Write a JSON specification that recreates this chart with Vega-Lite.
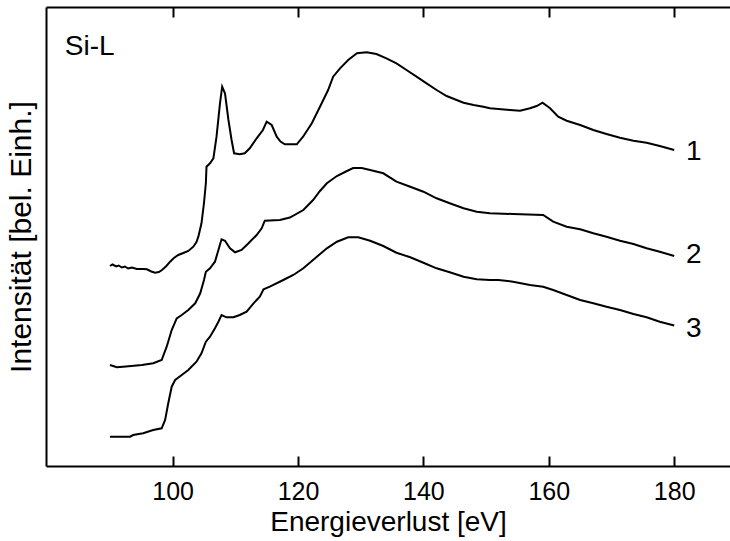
{
  "$schema": "https://vega.github.io/schema/vega-lite/v6.json",
  "width": 684,
  "height": 459,
  "autosize": {"type": "none"},
  "padding": {"left": 46, "top": 7, "right": 0, "bottom": 75},
  "background": "white",
  "view": {"stroke": null},
  "config": {
    "font": "Liberation Sans",
    "axis": {"domainColor": "black", "domainWidth": 2, "tickColor": "black", "tickWidth": 2, "labelColor": "black", "titleColor": "black", "titleFontWeight": "normal", "grid": false}
  },
  "datasets": {
    "curves": [
      {"s": 1, "e": 90.0, "i": 200},
      {"s": 1, "e": 90.4, "i": 201.5},
      {"s": 1, "e": 91.0, "i": 199.5},
      {"s": 1, "e": 91.4, "i": 200.5},
      {"s": 1, "e": 91.9, "i": 198.5},
      {"s": 1, "e": 92.4, "i": 199.5},
      {"s": 1, "e": 92.9, "i": 197.5},
      {"s": 1, "e": 93.5, "i": 198.5},
      {"s": 1, "e": 94.3, "i": 197},
      {"s": 1, "e": 95.3, "i": 197},
      {"s": 1, "e": 95.9, "i": 196.7},
      {"s": 1, "e": 96.6, "i": 194.5},
      {"s": 1, "e": 97.2, "i": 193.3},
      {"s": 1, "e": 97.8, "i": 194},
      {"s": 1, "e": 98.3, "i": 196},
      {"s": 1, "e": 99.0, "i": 200},
      {"s": 1, "e": 99.6, "i": 204.3},
      {"s": 1, "e": 100.2, "i": 208},
      {"s": 1, "e": 100.9, "i": 211},
      {"s": 1, "e": 101.7, "i": 213},
      {"s": 1, "e": 102.5, "i": 215},
      {"s": 1, "e": 103.3, "i": 219.3},
      {"s": 1, "e": 103.8, "i": 224},
      {"s": 1, "e": 104.1, "i": 229.3},
      {"s": 1, "e": 104.6, "i": 242.7},
      {"s": 1, "e": 105.0, "i": 263},
      {"s": 1, "e": 105.3, "i": 283},
      {"s": 1, "e": 105.4, "i": 299.3},
      {"s": 1, "e": 105.96, "i": 302.7},
      {"s": 1, "e": 106.5, "i": 307.7},
      {"s": 1, "e": 107.0, "i": 329.3},
      {"s": 1, "e": 107.55, "i": 362.7},
      {"s": 1, "e": 107.9, "i": 379.3},
      {"s": 1, "e": 108.35, "i": 372.7},
      {"s": 1, "e": 108.9, "i": 346},
      {"s": 1, "e": 109.4, "i": 326},
      {"s": 1, "e": 109.8, "i": 312.7},
      {"s": 1, "e": 110.7, "i": 311.7},
      {"s": 1, "e": 111.5, "i": 312.7},
      {"s": 1, "e": 112.3, "i": 317.7},
      {"s": 1, "e": 113.4, "i": 327.7},
      {"s": 1, "e": 114.4, "i": 336},
      {"s": 1, "e": 115.0, "i": 344.3},
      {"s": 1, "e": 115.8, "i": 341},
      {"s": 1, "e": 116.6, "i": 329.3},
      {"s": 1, "e": 117.2, "i": 324.5},
      {"s": 1, "e": 117.9, "i": 321.7},
      {"s": 1, "e": 119.8, "i": 321.7},
      {"s": 1, "e": 120.8, "i": 329.3},
      {"s": 1, "e": 122.2, "i": 342.7},
      {"s": 1, "e": 123.5, "i": 359.3},
      {"s": 1, "e": 124.8, "i": 376},
      {"s": 1, "e": 125.6, "i": 389.3},
      {"s": 1, "e": 126.7, "i": 397.7},
      {"s": 1, "e": 128.0, "i": 406},
      {"s": 1, "e": 129.4, "i": 412.7},
      {"s": 1, "e": 130.95, "i": 413.7},
      {"s": 1, "e": 132.5, "i": 412},
      {"s": 1, "e": 134.1, "i": 407.7},
      {"s": 1, "e": 135.7, "i": 402.7},
      {"s": 1, "e": 137.3, "i": 396},
      {"s": 1, "e": 138.9, "i": 389.3},
      {"s": 1, "e": 140.5, "i": 382.7},
      {"s": 1, "e": 142.1, "i": 376},
      {"s": 1, "e": 143.7, "i": 370},
      {"s": 1, "e": 145.3, "i": 366},
      {"s": 1, "e": 146.4, "i": 363.3},
      {"s": 1, "e": 148.0, "i": 361},
      {"s": 1, "e": 149.55, "i": 359.3},
      {"s": 1, "e": 150.6, "i": 357.7},
      {"s": 1, "e": 153.8, "i": 356},
      {"s": 1, "e": 155.4, "i": 355.3},
      {"s": 1, "e": 157.0, "i": 357.7},
      {"s": 1, "e": 158.07, "i": 360},
      {"s": 1, "e": 159.0, "i": 363.3},
      {"s": 1, "e": 160.2, "i": 357.7},
      {"s": 1, "e": 161.5, "i": 349.3},
      {"s": 1, "e": 162.85, "i": 345.3},
      {"s": 1, "e": 165.0, "i": 341},
      {"s": 1, "e": 167.1, "i": 336},
      {"s": 1, "e": 169.2, "i": 332},
      {"s": 1, "e": 171.35, "i": 328.3},
      {"s": 1, "e": 173.5, "i": 325.3},
      {"s": 1, "e": 175.6, "i": 323.3},
      {"s": 1, "e": 177.7, "i": 320},
      {"s": 1, "e": 180.0, "i": 316},
      {"s": 2, "e": 90.0, "i": 101},
      {"s": 2, "e": 91.1, "i": 98.7},
      {"s": 2, "e": 92.1, "i": 99.3},
      {"s": 2, "e": 95.1, "i": 101},
      {"s": 2, "e": 96.9, "i": 102.7},
      {"s": 2, "e": 98.25, "i": 106},
      {"s": 2, "e": 99.05, "i": 119.3},
      {"s": 2, "e": 99.85, "i": 136},
      {"s": 2, "e": 100.65, "i": 147.7},
      {"s": 2, "e": 101.45, "i": 151},
      {"s": 2, "e": 102.5, "i": 156},
      {"s": 2, "e": 103.6, "i": 162.7},
      {"s": 2, "e": 104.4, "i": 172.7},
      {"s": 2, "e": 105.0, "i": 186},
      {"s": 2, "e": 105.3, "i": 194.3},
      {"s": 2, "e": 105.96, "i": 197.7},
      {"s": 2, "e": 106.75, "i": 204.3},
      {"s": 2, "e": 107.3, "i": 216},
      {"s": 2, "e": 107.8, "i": 226.7},
      {"s": 2, "e": 108.35, "i": 225.3},
      {"s": 2, "e": 109.15, "i": 217.7},
      {"s": 2, "e": 109.95, "i": 213.7},
      {"s": 2, "e": 111.0, "i": 216},
      {"s": 2, "e": 112.1, "i": 222.7},
      {"s": 2, "e": 113.4, "i": 231},
      {"s": 2, "e": 114.2, "i": 237.7},
      {"s": 2, "e": 114.7, "i": 245.3},
      {"s": 2, "e": 117.1, "i": 246},
      {"s": 2, "e": 118.7, "i": 248.5},
      {"s": 2, "e": 120.85, "i": 256},
      {"s": 2, "e": 122.4, "i": 266},
      {"s": 2, "e": 123.5, "i": 275},
      {"s": 2, "e": 124.6, "i": 282.7},
      {"s": 2, "e": 126.2, "i": 290},
      {"s": 2, "e": 127.8, "i": 295},
      {"s": 2, "e": 128.8, "i": 298},
      {"s": 2, "e": 130.15, "i": 298},
      {"s": 2, "e": 131.5, "i": 296},
      {"s": 2, "e": 133.6, "i": 292.7},
      {"s": 2, "e": 135.7, "i": 284.3},
      {"s": 2, "e": 137.9, "i": 279.3},
      {"s": 2, "e": 140.0, "i": 274.3},
      {"s": 2, "e": 142.1, "i": 267.7},
      {"s": 2, "e": 144.2, "i": 262.7},
      {"s": 2, "e": 146.4, "i": 257.7},
      {"s": 2, "e": 148.5, "i": 254.3},
      {"s": 2, "e": 150.6, "i": 252.7},
      {"s": 2, "e": 154.3, "i": 252},
      {"s": 2, "e": 159.1, "i": 251},
      {"s": 2, "e": 160.7, "i": 244.3},
      {"s": 2, "e": 162.85, "i": 239.3},
      {"s": 2, "e": 165.0, "i": 236.7},
      {"s": 2, "e": 167.1, "i": 232.7},
      {"s": 2, "e": 169.2, "i": 229.3},
      {"s": 2, "e": 171.35, "i": 225.3},
      {"s": 2, "e": 173.5, "i": 222},
      {"s": 2, "e": 175.6, "i": 217.7},
      {"s": 2, "e": 177.7, "i": 214.3},
      {"s": 2, "e": 180.0, "i": 210},
      {"s": 3, "e": 90.0, "i": 29.3},
      {"s": 3, "e": 93.2, "i": 29.3},
      {"s": 3, "e": 93.7, "i": 31},
      {"s": 3, "e": 95.3, "i": 32.7},
      {"s": 3, "e": 96.9, "i": 36},
      {"s": 3, "e": 98.25, "i": 37.7},
      {"s": 3, "e": 98.8, "i": 46},
      {"s": 3, "e": 99.3, "i": 62.7},
      {"s": 3, "e": 99.85, "i": 79.3},
      {"s": 3, "e": 100.4, "i": 86},
      {"s": 3, "e": 101.45, "i": 91},
      {"s": 3, "e": 102.5, "i": 96},
      {"s": 3, "e": 103.8, "i": 104.3},
      {"s": 3, "e": 104.6, "i": 112.7},
      {"s": 3, "e": 105.3, "i": 124.3},
      {"s": 3, "e": 105.96, "i": 129.3},
      {"s": 3, "e": 106.75, "i": 137.7},
      {"s": 3, "e": 107.3, "i": 144.3},
      {"s": 3, "e": 107.8, "i": 151},
      {"s": 3, "e": 108.6, "i": 148.7},
      {"s": 3, "e": 109.7, "i": 148.7},
      {"s": 3, "e": 110.7, "i": 151},
      {"s": 3, "e": 111.8, "i": 154.3},
      {"s": 3, "e": 112.9, "i": 162.7},
      {"s": 3, "e": 113.9, "i": 169.3},
      {"s": 3, "e": 114.5, "i": 176.7},
      {"s": 3, "e": 115.5, "i": 179.3},
      {"s": 3, "e": 117.65, "i": 186},
      {"s": 3, "e": 119.25, "i": 191},
      {"s": 3, "e": 120.85, "i": 197.7},
      {"s": 3, "e": 123.0, "i": 209.3},
      {"s": 3, "e": 124.6, "i": 217.7},
      {"s": 3, "e": 126.2, "i": 224.3},
      {"s": 3, "e": 128.0, "i": 228.7},
      {"s": 3, "e": 129.6, "i": 228.7},
      {"s": 3, "e": 131.5, "i": 225.3},
      {"s": 3, "e": 133.6, "i": 220},
      {"s": 3, "e": 135.7, "i": 213.3},
      {"s": 3, "e": 137.9, "i": 208.7},
      {"s": 3, "e": 140.0, "i": 203.3},
      {"s": 3, "e": 142.1, "i": 197.7},
      {"s": 3, "e": 144.2, "i": 193.7},
      {"s": 3, "e": 146.4, "i": 189.3},
      {"s": 3, "e": 148.5, "i": 186.7},
      {"s": 3, "e": 150.6, "i": 186},
      {"s": 3, "e": 151.95, "i": 186},
      {"s": 3, "e": 154.3, "i": 184.3},
      {"s": 3, "e": 157.0, "i": 181},
      {"s": 3, "e": 159.1, "i": 179.3},
      {"s": 3, "e": 160.7, "i": 176},
      {"s": 3, "e": 162.85, "i": 171},
      {"s": 3, "e": 165.0, "i": 166},
      {"s": 3, "e": 167.1, "i": 162.7},
      {"s": 3, "e": 169.2, "i": 159.3},
      {"s": 3, "e": 171.35, "i": 156},
      {"s": 3, "e": 173.5, "i": 152},
      {"s": 3, "e": 175.6, "i": 148.7},
      {"s": 3, "e": 177.7, "i": 144.3},
      {"s": 3, "e": 180.0, "i": 140.5}
    ],
    "labels": [
      {"t": "Si-L", "e": 82.8, "i": 411},
      {"t": "1", "e": 181.9, "i": 306},
      {"t": "2", "e": 181.9, "i": 203},
      {"t": "3", "e": 181.9, "i": 129.5}
    ]
  },
  "layer": [
    {
      "data": {"name": "curves"},
      "mark": {"type": "line", "color": "black", "strokeWidth": 2, "interpolate": "linear"},
      "encoding": {
        "x": {
          "field": "e", "type": "quantitative",
          "scale": {"domain": [79.8, 188.9], "nice": false, "zero": false},
          "axis": {"orient": "bottom", "title": "Energieverlust [eV]", "values": [100, 120, 140, 160, 180], "tickSize": -10, "labelPadding": 23, "labelFontSize": 25, "titleFontSize": 28, "titlePadding": 4, "labelFlush": false}
        },
        "y": {
          "field": "i", "type": "quantitative",
          "scale": {"domain": [0, 459], "nice": false, "zero": false},
          "axis": {"orient": "left", "title": "Intensität [bel. Einh.]", "ticks": false, "labels": false, "titleFontSize": 30, "titlePadding": 10}
        },
        "detail": {"field": "s", "type": "nominal"}
      }
    },
    {
      "data": {"name": "labels"},
      "mark": {"type": "text", "align": "left", "baseline": "alphabetic", "fontSize": 28, "color": "black"},
      "encoding": {
        "x": {
          "field": "e", "type": "quantitative",
          "scale": {"domain": [79.8, 188.9], "nice": false, "zero": false},
          "axis": {"orient": "top", "title": null, "labels": false, "values": [100, 120, 140, 160, 180], "tickSize": -10}
        },
        "y": {
          "field": "i", "type": "quantitative",
          "scale": {"domain": [0, 459], "nice": false, "zero": false},
          "axis": {"orient": "left", "title": "Intensität [bel. Einh.]", "ticks": false, "labels": false, "titleFontSize": 30, "titlePadding": 10}
        },
        "text": {"field": "t"}
      }
    }
  ],
  "resolve": {"axis": {"x": "independent", "y": "shared"}}
}
